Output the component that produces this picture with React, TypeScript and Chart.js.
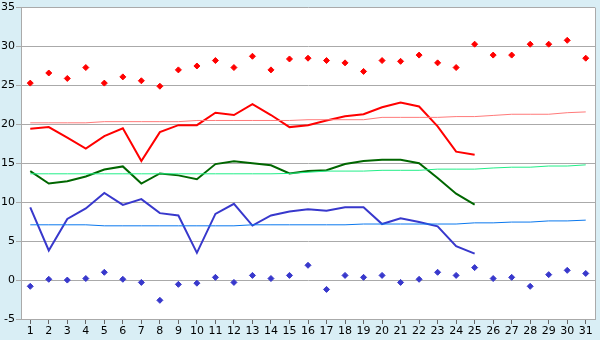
import React, { useEffect, useRef } from "react";
import { Chart, registerables } from "chart.js";

Chart.register(...registerables);

const days = ["1","2","3","4","5","6","7","8","9","10","11","12","13","14","15","16","17","18","19","20","21","22","23","24","25","26","27","28","29","30","31"];

const recordMax = [25.3, 26.6, 25.9, 27.3, 25.3, 26.1, 25.6, 24.9, 27.0, 27.5, 28.2, 27.3, 28.75, 27.0, 28.4, 28.5, 28.2, 27.9, 26.8, 28.2, 28.1, 28.9, 27.9, 27.3, 30.3, 28.9, 28.9, 30.3, 30.3, 30.8, 28.5];

const maxTemp = [19.45, 19.65, 18.3, 16.9, 18.5, 19.5, 15.3, 19.0, 19.9, 19.9, 21.5, 21.2, 22.6, 21.2, 19.65, 19.9, 20.5, 21.05, 21.3, 22.2, 22.8, 22.3, 19.75, 16.5, 16.1, null, null, null, null, null, null];

const meanTemp = [14.0, 12.4, 12.7, 13.3, 14.2, 14.6, 12.4, 13.7, 13.45, 12.95, 14.9, 15.25, 15.0, 14.75, 13.7, 14.0, 14.1, 14.9, 15.3, 15.45, 15.45, 15.0, 13.1, 11.1, 9.7, null, null, null, null, null, null];

const minTemp = [9.35, 3.8, 7.85, 9.2, 11.2, 9.65, 10.4, 8.6, 8.3, 3.5, 8.5, 9.8, 7.0, 8.3, 8.8, 9.1, 8.9, 9.35, 9.35, 7.2, 7.95, 7.45, 6.9, 4.35, 3.4, null, null, null, null, null, null];

const recordMin = [-0.8, 0.1, 0.0, 0.2, 1.0, 0.1, -0.3, -2.6, -0.55, -0.4, 0.35, -0.3, 0.6, 0.2, 0.6, 1.9, -1.2, 0.6, 0.35, 0.6, -0.3, 0.1, 1.0, 0.6, 1.6, 0.2, 0.35, -0.8, 0.7, 1.25, 0.85];

const maxTrend = [20.2, 20.2, 20.2, 20.2, 20.35, 20.35, 20.35, 20.35, 20.35, 20.5, 20.5, 20.5, 20.5, 20.5, 20.5, 20.6, 20.6, 20.6, 20.6, 20.9, 20.9, 20.9, 20.9, 21.0, 21.0, 21.15, 21.3, 21.3, 21.3, 21.5, 21.6];

const meanTrend = [13.65, 13.65, 13.65, 13.65, 13.65, 13.65, 13.65, 13.65, 13.65, 13.65, 13.65, 13.65, 13.65, 13.65, 13.7, 13.85, 14.0, 14.0, 14.0, 14.1, 14.1, 14.1, 14.25, 14.25, 14.25, 14.4, 14.5, 14.5, 14.65, 14.65, 14.8];

const minTrend = [7.1, 7.1, 7.1, 7.1, 6.97, 6.97, 6.97, 6.97, 6.97, 6.97, 6.97, 6.97, 7.1, 7.1, 7.1, 7.1, 7.1, 7.1, 7.2, 7.2, 7.2, 7.2, 7.2, 7.2, 7.35, 7.35, 7.45, 7.45, 7.6, 7.6, 7.7];

const yMin = -5;
const yMax = 35;
const yStep = 5;

const bgPlugin = {
  id: "bgPlugin",
  beforeDraw(chart: any) {
    const { ctx, chartArea } = chart;
    ctx.save();
    ctx.fillStyle = "#d9eef5";
    ctx.fillRect(0, 0, chart.width, chart.height);
    ctx.fillStyle = "#ffffff";
    ctx.fillRect(chartArea.left, chartArea.top, chartArea.right - chartArea.left, chartArea.bottom - chartArea.top);
    ctx.restore();
  },
  beforeDatasetsDraw(chart: any) {
    const { ctx, chartArea } = chart;
    ctx.save();
    ctx.strokeStyle = "#aaaaaa";
    ctx.lineWidth = 1;
    ctx.beginPath();
    ctx.moveTo(Math.round(chartArea.right) + 0.5, chartArea.top);
    ctx.lineTo(Math.round(chartArea.right) + 0.5, chartArea.bottom);
    ctx.stroke();
    ctx.restore();
  },
};

export default function App() {
  const ref = useRef<HTMLCanvasElement | null>(null);
  useEffect(() => {
    document.body.style.margin = "0";
    if (!ref.current) return;
    const line = (data: any[], color: string, width: number) => ({
      type: "line" as const,
      data,
      borderColor: color,
      backgroundColor: color,
      borderWidth: width,
      pointRadius: 0,
      tension: 0,
      fill: false,
    });
    const pts = (data: any[], color: string) => ({
      type: "line" as const,
      data,
      borderColor: color,
      backgroundColor: color,
      showLine: false,
      pointStyle: "rectRot",
      pointRadius: 3,
      pointBorderWidth: 1,
    });
    const chart = new Chart(ref.current, {
      type: "line",
      data: {
        labels: days,
        datasets: [
          line(maxTrend, "#ff7a7a", 1),
          line(meanTrend, "#22ee88", 1),
          line(minTrend, "#0a78ee", 1),
          pts(recordMax, "#ff0000"),
          pts(recordMin, "#3838cc"),
          line(maxTemp, "#ff0000", 2),
          line(meanTemp, "#006600", 2),
          line(minTemp, "#3838cc", 2),
        ] as any,
      },
      options: {
        animation: false,
        responsive: false,
        maintainAspectRatio: false,
        layout: { padding: { top: 5, right: 4, left: 0, bottom: 0 } },
        plugins: { legend: { display: false }, tooltip: { enabled: false } },
        scales: {
          x: {
            offset: true,
            grid: { drawOnChartArea: false, drawTicks: true, tickLength: 5, color: "#666666", offset: false },
            border: { display: true, color: "#aaaaaa" },
            ticks: { color: "#000", font: { family: "DejaVu Sans", size: 11 }, padding: 1, maxRotation: 0, autoSkip: false },
            afterFit(scale: any) { scale.height = 21; },
          },
          y: {
            min: yMin,
            max: yMax,
            grid: { color: "#aaaaaa", drawTicks: true, tickLength: 5 },
            border: { display: true, color: "#aaaaaa" },
            ticks: { stepSize: yStep, color: "#000", font: { family: "DejaVu Sans", size: 11 }, padding: 1 },
            afterFit(scale: any) { scale.width = 21; },
          },
        },
      },
      plugins: [bgPlugin],
    });
    return () => chart.destroy();
  }, []);
  return (
    <div style={{ position: "fixed", left: 0, top: 0, width: 600, height: 340 }}>
      <canvas ref={ref} width={600} height={340} style={{ width: 600, height: 340, display: "block" }} />
    </div>
  );
}
